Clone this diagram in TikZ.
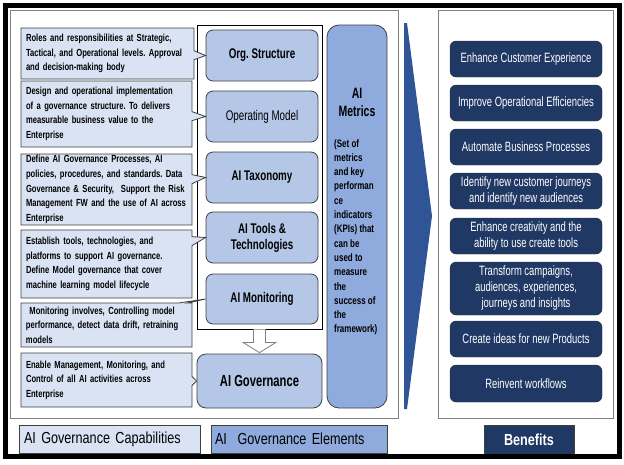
\documentclass[tikz,border=0pt]{standalone}
\usepackage{fontspec}
\setmainfont{Liberation Sans}[FakeStretch=0.7]
\newfontfamily\descfont{Liberation Sans}[FakeStretch=0.74]
\newfontfamily\legfont{Liberation Sans}[FakeStretch=0.79]
\frenchspacing
\usetikzlibrary{shapes.callouts,calc}
\definecolor{CapFill}{RGB}{218,227,243}
\definecolor{ElemFill}{RGB}{180,199,231}
\definecolor{MetricFill}{RGB}{143,170,220}
\definecolor{NavyBlue}{RGB}{31,56,100}
\definecolor{ChevBlue}{RGB}{47,85,151}
\definecolor{EdgeGray}{RGB}{64,64,64}
\definecolor{PanelGray}{RGB}{127,127,127}
% one unbreakable line, and one spread to the full width
\newcommand\capline[1]{\mbox{#1}}
\newcommand\capjust[1]{\leavevmode\hbox to 161pt{#1}}
\begin{document}
\begin{tikzpicture}[x=1pt,y=-1pt,
  panel/.style={draw=PanelGray,line width=.8pt,fill=white},
  capbox/.style={rectangle callout,draw=EdgeGray,fill=CapFill,line width=.8pt,inner xsep=5pt,inner ysep=1pt,
    font=\descfont\fontsize{10.3}{14.6}\selectfont\bfseries,align=left,callout pointer width=9pt},
  elembox/.style={draw=EdgeGray,fill=ElemFill,line width=.8pt,rounded corners=7pt,minimum width=112pt,
    minimum height=51pt,align=center,font=\fontsize{14}{16}\selectfont\bfseries},
  benbox/.style={draw=black!80,fill=NavyBlue,text=white,rounded corners=6pt,minimum width=152pt,
    minimum height=36pt,align=center,font=\fontsize{13.5}{16}\selectfont}]
\useasboundingbox (0,0) rectangle (624,464);
% panels
\node[panel,minimum width=388pt,minimum height=408pt] (leftpanel) at (204,214) {};
\node[panel,minimum width=175pt,minimum height=408pt] (benpanel) at (525.5,214) {};
\node[draw=black,line width=.8pt,minimum width=125pt,minimum height=304pt] (elemframe) at (259.5,177) {};
% governance elements
\node[elembox] (org) at (262,55.5) {Org. Structure};
\node[elembox,font=\fontsize{14}{16}\selectfont] (opm) at (262,116.5) {Operating Model};
\node[elembox] (tax) at (262,177.5) {AI Taxonomy};
\node[elembox] (tools) at (262,237.5) {AI Tools \&\\Technologies};
\node[elembox,minimum height=50pt] (mon) at (262,299) {AI Monitoring};
\node[elembox,minimum width=125pt,minimum height=54pt,rounded corners=9pt,font=\fontsize{16}{18}\selectfont\bfseries] (gov) at (259.5,381) {AI Governance};
\draw[draw=PanelGray,fill=white,line width=.8pt] ($(elemframe.south)+(-6,0)$) -- ($(elemframe.south)+(-6,13)$)
  -- ($(elemframe.south)+(-16.5,13)$) -- ($(gov.north)+(0,-1)$) -- ($(elemframe.south)+(16.5,13)$)
  -- ($(elemframe.south)+(6,13)$) -- ($(elemframe.south)+(6,0)$);
% metrics column
\node[draw=EdgeGray,fill=MetricFill,line width=.8pt,rounded corners=12pt,minimum width=60pt,minimum height=383pt] (metrics) at (357,216.5) {};
\node[font=\fontsize{15}{18}\selectfont\bfseries,align=center] (mtitle) at (357,102) {AI\\Metrics};
\node[font=\descfont\fontsize{10.8}{14.3}\selectfont\bfseries,align=left,anchor=north west,inner sep=0pt] (mtext) at (334,139)
  {(Set of\\metrics\\and key\\performan\\ce\\indicators\\(KPIs) that\\can be\\used to\\measure\\the\\success of\\the\\framework)};
% capabilities
\node[capbox,text width=163pt,minimum height=51pt,callout absolute pointer={(org.west)}] (cap1) at (107.5,53.5)
  {\capline{Roles and responsibilities at Strategic,}\\\capline{Tactical, and Operational levels. Approval}\\\capline{and decision-making body}};
\node[capbox,text width=161pt,minimum height=66pt,callout absolute pointer={(opm.west)}] (cap2) at (106.5,114)
  {\capjust{Design and operational implementation}\\\capjust{of a governance structure. To delivers}\\\capjust{measurable business value to the}\\Enterprise};
\node[capbox,text width=161pt,minimum height=71pt,callout absolute pointer={(tax.west)}] (cap3) at (106.5,189.5)
  {\capline{Define AI Governance Processes, AI}\\\capline{policies, procedures, and standards. Data}\\\capline{Governance \& Security,\ \ Support the Risk}\\\capline{Management FW and the use of AI across}\\Enterprise};
\node[capbox,text width=161pt,minimum height=68pt,callout absolute pointer={(tools.west)}] (cap4) at (106.5,264)
  {\capline{Establish tools, technologies, and}\\\capline{platforms to support AI governance.}\\\capline{Define Model governance that cover}\\\capline{machine learning model lifecycle}};
\node[capbox,text width=161pt,minimum height=44pt,callout absolute pointer={(mon.west)}] (cap5) at (106.5,325)
  {\capline{\ Monitoring involves, Controlling model}\\\capline{performance, detect data drift, retraining}\\models};
\node[capbox,text width=161pt,minimum height=54pt,callout absolute pointer={(gov.west)}] (cap6) at (106.5,380)
  {\capline{Enable Management, Monitoring, and}\\\capline{Control of all AI activities across}\\Enterprise};
% chevron
\fill[ChevBlue] (404,23) -- (407,23) -- (432,216) -- (407,409) -- (404,409) -- cycle;
% benefits
\node[benbox] (ben1) at (526,59) {Enhance Customer Experience};
\node[benbox] (ben2) at (526,103) {Improve Operational Efficiencies};
\node[benbox] (ben3) at (526,147) {Automate Business Processes};
\node[benbox] (ben4) at (526,191) {Identify new customer journeys\\and identify new audiences};
\node[benbox] (ben5) at (526,236) {Enhance creativity and the\\ability to use create tools};
\node[benbox,minimum height=53pt] (ben6) at (526,288.5) {Transform campaigns,\\audiences, experiences,\\journeys and insights};
\node[benbox] (ben7) at (526,339) {Create ideas for new Products};
\node[benbox,minimum height=37pt] (ben8) at (526,383.5) {Reinvent workflows};
% legend
\node[draw=EdgeGray,fill=CapFill,line width=.8pt,minimum width=181pt,minimum height=28pt,text width=171pt,align=left,
  font=\legfont\fontsize{16}{18}\selectfont] (capleg) at (109.5,439) {AI Governance Capabilities};
\node[draw=EdgeGray,fill=MetricFill,line width=.8pt,minimum width=176pt,minimum height=28pt,text width=168pt,align=left,
  font=\legfont\fontsize{16}{18}\selectfont] (elemleg) at (299,439) {AI\ \ Governance Elements};
\node[draw=EdgeGray,fill=NavyBlue,text=white,line width=.8pt,minimum width=90pt,minimum height=29pt,
  font=\legfont\fontsize{16}{18}\selectfont\bfseries] (benleg) at (529,439.5) {Benefits};
% outer frame
\draw[line width=5pt] (5.5,5.5) rectangle (619,456);
\end{tikzpicture}
\end{document}
